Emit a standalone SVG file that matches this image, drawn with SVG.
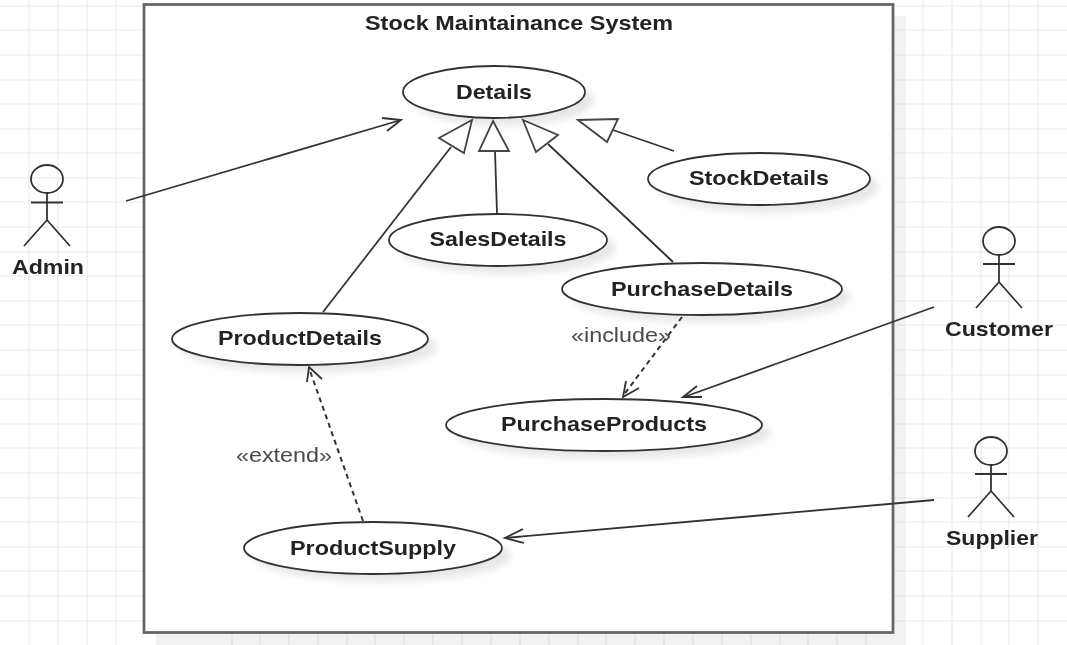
<svg xmlns="http://www.w3.org/2000/svg" width="1067" height="645" viewBox="0 0 1067 645">
<style>
.grid line{stroke:#ececec;stroke-width:1.2}
.uc{fill:#fff;stroke:#333;stroke-width:1.8}
.t{font-family:"Liberation Sans",Arial,sans-serif;font-weight:bold;font-size:20.5px;fill:#222;text-anchor:middle}
.l{font-family:"Liberation Sans",Arial,sans-serif;font-size:20px;fill:#484848;text-anchor:middle}
.c{stroke:#333;stroke-width:1.8;fill:none}
.d{stroke:#333;stroke-width:2;fill:none;stroke-dasharray:5 4}
.h{stroke:#444;stroke-width:1.8;fill:#fff}
.a{stroke:#333;stroke-width:1.8;fill:none}
.actor{stroke:#333;stroke-width:1.8;fill:none}
.sh{fill:#000;opacity:.09;filter:url(#b)}
</style>
<defs><filter id="b" x="-20%" y="-40%" width="140%" height="180%"><feGaussianBlur stdDeviation="3.5"/></filter>
<filter id="soft" x="0" y="0" width="1067" height="645" filterUnits="userSpaceOnUse"><feGaussianBlur stdDeviation="0.6"/></filter></defs>
<rect width="1067" height="645" fill="#fff"/>
<g filter="url(#soft)">
<g class="grid">
<line x1="29" y1="0" x2="29" y2="645"/><line x1="58" y1="0" x2="58" y2="645"/><line x1="87" y1="0" x2="87" y2="645"/><line x1="116" y1="0" x2="116" y2="645"/>
<line x1="232" y1="632" x2="232" y2="645"/><line x1="260" y1="632" x2="260" y2="645"/><line x1="289" y1="632" x2="289" y2="645"/><line x1="318" y1="632" x2="318" y2="645"/><line x1="347" y1="632" x2="347" y2="645"/><line x1="375" y1="632" x2="375" y2="645"/><line x1="404" y1="632" x2="404" y2="645"/><line x1="433" y1="632" x2="433" y2="645"/><line x1="462" y1="632" x2="462" y2="645"/><line x1="491" y1="632" x2="491" y2="645"/><line x1="520" y1="632" x2="520" y2="645"/><line x1="549" y1="632" x2="549" y2="645"/><line x1="578" y1="632" x2="578" y2="645"/><line x1="606" y1="632" x2="606" y2="645"/><line x1="635" y1="632" x2="635" y2="645"/><line x1="664" y1="632" x2="664" y2="645"/><line x1="693" y1="632" x2="693" y2="645"/><line x1="722" y1="632" x2="722" y2="645"/><line x1="751" y1="632" x2="751" y2="645"/><line x1="780" y1="632" x2="780" y2="645"/><line x1="808" y1="632" x2="808" y2="645"/><line x1="837" y1="632" x2="837" y2="645"/><line x1="866" y1="632" x2="866" y2="645"/>
<line x1="923" y1="0" x2="923" y2="645"/><line x1="952" y1="0" x2="952" y2="645"/><line x1="981" y1="0" x2="981" y2="645"/><line x1="1009" y1="0" x2="1009" y2="645"/><line x1="1038" y1="0" x2="1038" y2="645"/>
<line x1="0" y1="6" x2="1067" y2="6"/><line x1="0" y1="30" x2="1067" y2="30"/><line x1="0" y1="55" x2="1067" y2="55"/><line x1="0" y1="80" x2="1067" y2="80"/><line x1="0" y1="104" x2="1067" y2="104"/><line x1="0" y1="129" x2="1067" y2="129"/><line x1="0" y1="153" x2="1067" y2="153"/><line x1="0" y1="178" x2="1067" y2="178"/><line x1="0" y1="202" x2="1067" y2="202"/><line x1="0" y1="227" x2="1067" y2="227"/><line x1="0" y1="252" x2="1067" y2="252"/><line x1="0" y1="276" x2="1067" y2="276"/><line x1="0" y1="301" x2="1067" y2="301"/><line x1="0" y1="325" x2="1067" y2="325"/><line x1="0" y1="350" x2="1067" y2="350"/><line x1="0" y1="375" x2="1067" y2="375"/><line x1="0" y1="399" x2="1067" y2="399"/><line x1="0" y1="424" x2="1067" y2="424"/><line x1="0" y1="448" x2="1067" y2="448"/><line x1="0" y1="473" x2="1067" y2="473"/><line x1="0" y1="498" x2="1067" y2="498"/><line x1="0" y1="522" x2="1067" y2="522"/><line x1="0" y1="547" x2="1067" y2="547"/><line x1="0" y1="571" x2="1067" y2="571"/><line x1="0" y1="596" x2="1067" y2="596"/><line x1="0" y1="621" x2="1067" y2="621"/>
</g>
<g id="system">
<rect x="156" y="16" width="750" height="629" fill="#000" opacity=".05"/>
<rect x="144" y="4.500" width="749" height="628" fill="#fff" stroke="#666" stroke-width="2.8"/>
<text class="t" x="519" y="30" textLength="308" lengthAdjust="spacingAndGlyphs">Stock Maintainance System</text>
</g>
<g id="details"><ellipse class="sh" cx="503" cy="100" rx="91" ry="26"/><ellipse class="uc" cx="494" cy="92" rx="91" ry="26"/><text class="t" x="494" y="98.500" textLength="76" lengthAdjust="spacingAndGlyphs">Details</text></g>
<g id="stockdetails"><ellipse class="sh" cx="768" cy="187" rx="111" ry="26"/><ellipse class="uc" cx="759" cy="179" rx="111" ry="26"/><text class="t" x="759" y="185" textLength="140" lengthAdjust="spacingAndGlyphs">StockDetails</text></g>
<g id="salesdetails"><ellipse class="sh" cx="507" cy="248" rx="109" ry="26"/><ellipse class="uc" cx="498" cy="240" rx="109" ry="26"/><text class="t" x="498" y="246" textLength="137" lengthAdjust="spacingAndGlyphs">SalesDetails</text></g>
<g id="purchasedetails"><ellipse class="sh" cx="711" cy="297" rx="140" ry="26"/><ellipse class="uc" cx="702" cy="289" rx="140" ry="26"/><text class="t" x="702" y="296" textLength="182" lengthAdjust="spacingAndGlyphs">PurchaseDetails</text></g>
<g id="productdetails"><ellipse class="sh" cx="309" cy="347" rx="128" ry="26"/><ellipse class="uc" cx="300" cy="339" rx="128" ry="26"/><text class="t" x="300" y="345" textLength="164" lengthAdjust="spacingAndGlyphs">ProductDetails</text></g>
<g id="purchaseproducts"><ellipse class="sh" cx="613" cy="433" rx="158" ry="26"/><ellipse class="uc" cx="604" cy="425" rx="158" ry="26"/><text class="t" x="604" y="431" textLength="206" lengthAdjust="spacingAndGlyphs">PurchaseProducts</text></g>
<g id="productsupply"><ellipse class="sh" cx="382" cy="556" rx="129" ry="26"/><ellipse class="uc" cx="373" cy="548" rx="129" ry="26"/><text class="t" x="373" y="555" textLength="166" lengthAdjust="spacingAndGlyphs">ProductSupply</text></g>
<g id="connectors">
<line class="c" x1="126" y1="201" x2="401" y2="120"/>
<path class="a" d="M382 118L401 120L387 131"/>
<line class="c" x1="323" y1="312" x2="451" y2="147"/>
<polygon class="h" points="472,120 464,153 439,138"/>
<line class="c" x1="497" y1="213" x2="495" y2="151"/>
<polygon class="h" points="493,121 509,151 479,151"/>
<line class="c" x1="673" y1="262" x2="548" y2="144"/>
<polygon class="h" points="523,120 558,135 536,152"/>
<line class="c" x1="674" y1="151" x2="613" y2="130"/>
<polygon class="h" points="578,120 618,119 607,142"/>
<line class="d" x1="682" y1="317" x2="623" y2="396"/>
<path class="a" d="M626 381L623 397L639 388"/>
<line class="c" x1="934" y1="307" x2="684" y2="397"/>
<path class="a" d="M697 386L683 397L702 397"/>
<line class="d" x1="363" y1="521" x2="309" y2="368"/>
<path class="a" d="M307 382L309 367L322 379"/>
<line class="c" x1="934" y1="500" x2="505" y2="538"/>
<path class="a" d="M523 529L505 538L524 543"/>
<text class="l" x="621" y="342" textLength="100" lengthAdjust="spacingAndGlyphs">«include»</text>
<text class="l" x="284" y="462" textLength="96" lengthAdjust="spacingAndGlyphs">«extend»</text>
</g>
<g id="admin"><ellipse class="actor" cx="47" cy="179" rx="16" ry="14"/><path class="actor" d="M47 193V220M31 202.500H63M47 220L24 246M47 220L70 246"/><text class="t" x="48" y="274" textLength="72" lengthAdjust="spacingAndGlyphs">Admin</text></g>
<g id="customer"><ellipse class="actor" cx="999" cy="241" rx="16" ry="14"/><path class="actor" d="M999 255V282M983 264H1015M999 282L976 308M999 282L1022 308"/><text class="t" x="999" y="336" textLength="108" lengthAdjust="spacingAndGlyphs">Customer</text></g>
<g id="supplier"><ellipse class="actor" cx="991" cy="451" rx="16" ry="14"/><path class="actor" d="M991 465V491M975 474H1007M991 491L968 517M991 491L1014 517"/><text class="t" x="992" y="545" textLength="92" lengthAdjust="spacingAndGlyphs">Supplier</text></g>
</g>
</svg>
